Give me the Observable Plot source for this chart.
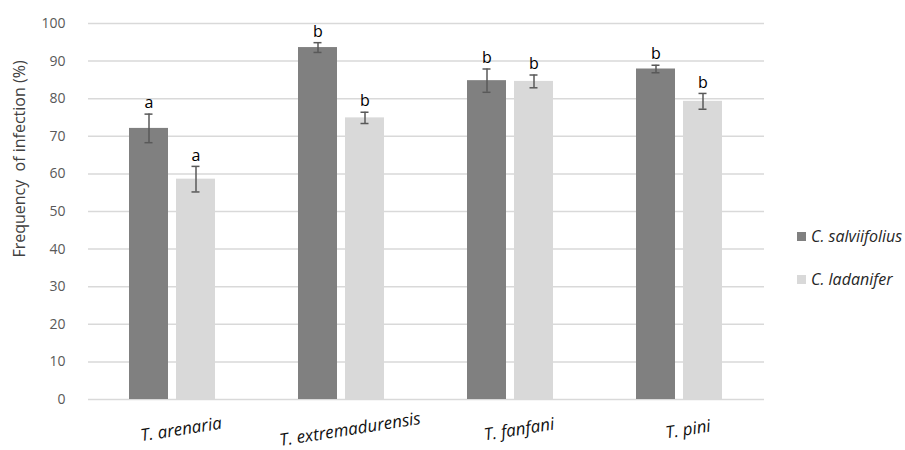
<!DOCTYPE html>
<html>
<head>
<meta charset="utf-8">
<script src="https://cdn.jsdelivr.net/npm/d3@7"></script>
<script src="https://cdn.jsdelivr.net/npm/@observablehq/plot@0.6"></script>
<style>
  body { margin: 0; background: #fff; }
  #wrap { position: relative; width: 905px; height: 450px; font-family: "Open Sans", Lato, sans-serif; }
  .leg { position: absolute; left: 797px; font-size: 16px; font-style: italic; color: #262626; display: flex; align-items: center; line-height: 20px; white-space: nowrap; }
  .sw { width: 9px; height: 9px; margin-right: 5px; display: inline-block; }
  .ylab { position: absolute; left: 19px; top: 159px; transform: translate(-50%, -50%) rotate(-90deg); font-size: 16px; color: #404040; white-space: pre; }
  .xlab { position: absolute; font-size: 17px; font-style: italic; color: #111; white-space: nowrap; line-height: 20px; transform: translate(-50%, -50%) matrix(0.988, -0.156, 0.156, 0.988, 0, 0); }
</style>
</head>
<body>
<div id="wrap"></div>
<script>
const species = ["T. arenaria", "T. extremadurensis", "T. fanfani", "T. pini"];
const hosts = ["C. salviifolius", "C. ladanifer"];
const salviValues = [72.1, 93.6, 84.8, 87.9];
const salviErrors = [3.8, 1.3, 3.1, 1.0];
const salviLetters = ["a", "b", "b", "b"];
const ladaValues = [58.6, 74.9, 84.6, 79.3];
const ladaErrors = [3.4, 1.5, 1.7, 2.1];
const ladaLetters = ["a", "b", "b", "b"];
const yTicks = [0, 10, 20, 30, 40, 50, 60, 70, 80, 90, 100];
const colors = ["#808080", "#d9d9d9"];
const yLabel = "Frequency  of infection (%)";

const data = [];
species.forEach((s, i) => {
  data.push({species: s, host: hosts[0], value: salviValues[i], err: salviErrors[i], letter: salviLetters[i]});
  data.push({species: s, host: hosts[1], value: ladaValues[i], err: ladaErrors[i], letter: ladaLetters[i]});
});

const chart = Plot.plot({
  width: 905,
  height: 450,
  marginLeft: 88,
  marginRight: 141,
  marginTop: 23,
  marginBottom: 51,
  style: {fontFamily: "'Open Sans', Lato, sans-serif", background: "#fff"},
  fx: {domain: species, padding: 0, label: null, axis: null},
  x: {domain: hosts, paddingInner: 0.17, paddingOuter: 0.88, axis: null},
  y: {domain: [0, 100], ticks: yTicks},
  color: {domain: hosts, range: colors},
  marks: [
    Plot.gridY(yTicks, {stroke: "#d9d9d9", strokeOpacity: 1, strokeWidth: 1.5}),
    Plot.axisY(yTicks, {tickSize: 0, dx: -14, fontSize: 14, fill: "#595959", label: null}),
    Plot.barY(data, {fx: "species", x: "host", y: "value", fill: "host"}),
    Plot.ruleX(data, {fx: "species", x: "host", y1: d => d.value - d.err, y2: d => d.value + d.err, stroke: "#595959", strokeWidth: 1.5}),
    Plot.tickY(data, {fx: "species", x: "host", y: d => d.value - d.err, stroke: "#595959", strokeWidth: 1.5, insetLeft: 15.5, insetRight: 15.5}),
    Plot.tickY(data, {fx: "species", x: "host", y: d => d.value + d.err, stroke: "#595959", strokeWidth: 1.5, insetLeft: 15.5, insetRight: 15.5}),
    Plot.text(data, {fx: "species", x: "host", y: d => d.value + d.err, text: "letter", dy: -11, fontSize: 16, fill: "#000"})
  ]
});

const wrap = document.getElementById("wrap");
wrap.appendChild(chart);

// category labels, positioned with Plot's own fx and y scales
const fxs = chart.scale("fx");
const ys = chart.scale("y");
species.forEach(s => {
  const d = document.createElement("div");
  d.className = "xlab";
  d.textContent = s;
  d.style.left = (fxs.apply(s) + fxs.bandwidth / 2 + 8) + "px";
  d.style.top = (ys.apply(0) + 30) + "px";
  wrap.appendChild(d);
});

const yl = document.createElement("div");
yl.className = "ylab";
yl.textContent = yLabel;
wrap.appendChild(yl);
hosts.forEach((h, i) => {
  const d = document.createElement("div");
  d.className = "leg";
  d.style.top = (226 + i * 43) + "px";
  d.innerHTML = `<span class="sw" style="background:${colors[i]}"></span>${h}`;
  wrap.appendChild(d);
});
</script>
</body>
</html>
